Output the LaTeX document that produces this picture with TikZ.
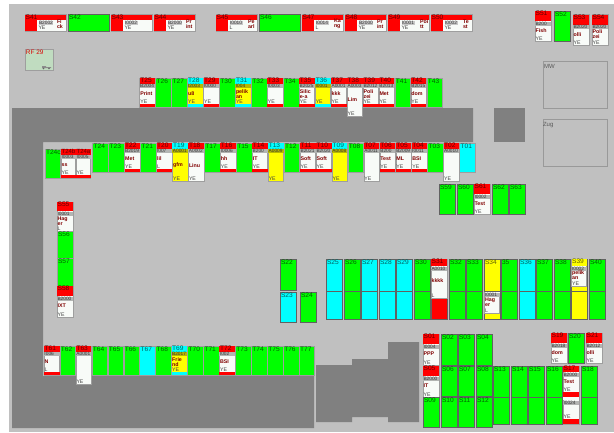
\documentclass[tikz,border=0pt]{standalone}
\usepackage{fontspec}
\setmainfont{Liberation Sans}
\definecolor{bg}{HTML}{C0C0C0}
\definecolor{wall}{HTML}{808080}
\definecolor{paper}{HTML}{F8FBF8}
\definecolor{wine}{HTML}{800000}
\definecolor{rfgreen}{HTML}{C0DCC0}
\definecolor{red}{HTML}{FF0000}
\definecolor{green}{HTML}{00FF00}
\definecolor{cyan}{HTML}{00FFFF}
\definecolor{yellow}{HTML}{FFFF00}
\pgfkeys{/card/.is family,/card,
  lab/.store in=\cLab, lfill/.store in=\cLf, body/.store in=\cBody, code/.store in=\cCode,
  mid/.store in=\cMid, tail/.store in=\cTail, bot/.store in=\cBot, bh/.store in=\cBh,
  lh/.store in=\cLh, my/.store in=\cMy, lsize/.store in=\cLs}
\def\cNone{none}
\tikzset{
  box/.style={anchor=north west,inner sep=0pt,outer sep=0pt,rectangle},
  tedge/.style={box,draw=black!38,line width=.5pt},
  sedge/.style={box,draw=black!62,line width=.9pt},
  stripe/.style={box,line width=0pt},
  txt/.style={inner sep=0pt,outer sep=0pt,anchor=west,align=left},
  codetxt/.style={txt,text=black!80,font=\fontsize{4.8}{4.8}\selectfont},
  midtxt/.style={txt,text=wine,font=\bfseries\fontsize{5.3}{5}\selectfont},
  tailtxt/.style={txt,text=black!75,font=\fontsize{5.2}{5.2}\selectfont},
  room/.style={box,draw=black!40,line width=.7pt},
}
% solid box with a label at its top left: name,x,y,w,h,edge style,fill,label
\newcommand{\solid}[8]{%
  \node[#6,fill=#7,minimum width=#4,minimum height=#5] (#1) at (#2,#3) {};
  \node[txt,anchor=north west,text=#7!38!black,font=\fontsize{6.6}{6.6}\selectfont] (#1-l) at ([xshift=1pt,yshift=-.8pt]#1.north west) {#8};}
% S column in two parts
\newcommand{\column}[3]{%
  \solid{#1}{#2}{259}{16}{60}{sedge}{#3}{#1}
  \draw[black!62,line width=.7pt] (#1.west |- 0,291) -- (#1.east |- 0,291);}
\newcommand{\columnb}[3]{%
  \solid{#1}{#2}{366}{16}{58}{sedge}{#3}{#1}
  \draw[black!62,line width=.7pt] (#1.west |- 0,397) -- (#1.east |- 0,397);}
% vertical card: name,x,y,w,h,options
\newcommand{\card}[6]{%
  \pgfkeys{/card,lab=#1,lfill=red,body=paper,code=,mid=,tail=,bot=none,bh=3,lh=5.5,my=16,lsize=6.6}%
  \pgfkeys{/card,#6}%
  \node[tedge,fill=\cBody,minimum width=#4,minimum height=#5] (#1) at (#2,#3) {};
  \node[stripe,fill=\cLf,minimum width=#4,minimum height=\cLh] (#1-a) at (#1.north west) {};
  \node[txt,anchor=north west,text=\cLf!38!black,font=\fontsize{\cLs}{\cLs}\selectfont] (#1-l) at ([xshift=.6pt,yshift=-.3pt]#1.north west) {\cLab};
  \node[stripe,fill=\cBody!72!black,minimum width=#4,minimum height=4.2] (#1-b) at ([yshift=-\cLh pt-.5pt]#1.north west) {};
  \node[codetxt] (#1-c) at ([xshift=.5pt]#1-b.west) {\cCode};
  \node[midtxt] (#1-m) at ([xshift=.6pt,yshift=-\cMy pt]#1.north west) {\cMid};
  \ifx\cBot\cNone
    \node[tailtxt] (#1-t) at ([xshift=.6pt,yshift=2.6pt]#1.south west) {\cTail};
  \else
    \node[stripe,fill=\cBot,anchor=south west,minimum width=#4,minimum height=\cBh] (#1-s) at (#1.south west) {};
    \node[tailtxt] (#1-t) at ([xshift=.6pt,yshift=2.5pt]#1-s.north west) {\cTail};
  \fi}
% horizontal card of the top row: name,x,code,mid,tail
\newcommand{\hcard}[5]{%
  \node[tedge,fill=paper,minimum width=41,minimum height=16.5] (#1) at (#2,14.5) {};
  \node[stripe,fill=red,minimum width=41,minimum height=5] (#1-a) at (#1.north west) {};
  \node[stripe,fill=red,minimum width=12,minimum height=16.5] (#1-b) at (#1.north west) {};
  \node[txt,anchor=north west,text=red!38!black,font=\fontsize{6.6}{6.6}\selectfont] (#1-l) at ([xshift=.6pt,yshift=-.6pt]#1.north west) {#1};
  \node[codetxt,fill=black!22,inner xsep=.5pt] (#1-c) at ([xshift=13.5pt,yshift=-8.3pt]#1.north west) {#3};
  \node[midtxt] (#1-m) at ([xshift=32pt,yshift=-9.5pt]#1.north west) {#4};
  \node[tailtxt] (#1-t) at ([xshift=13.5pt,yshift=2.8pt]#1.south west) {#5};}
\begin{document}
\begin{tikzpicture}[x=1pt,y=-1pt]
\useasboundingbox (0,0) rectangle (614,432);
\fill[white] (0,0) rectangle (614,432);
\fill[bg] (9,3.5) rectangle (614,432);
% walls
\fill[wall] (12,108) -- (473,108) -- (473,142) -- (43,142) -- (43,376) -- (314,376) -- (314,428) -- (12,428) -- cycle;
\fill[wall] (493.5,108) rectangle (525,142);
\fill[wall] (316,365) -- (352,365) -- (352,359) -- (388,359) -- (388,342) -- (419,342) -- (419,422) -- (388,422) -- (388,417) -- (352,417) -- (352,422) -- (316,422) -- cycle;
% rooms
\node[room,minimum width=64,minimum height=47] (MW) at (543,61) {};
\node[txt,anchor=north west,text=black!65,font=\fontsize{6}{6}\selectfont] (MWl) at ([xshift=1pt,yshift=-3pt]MW.north west) {MW};
\node[room,minimum width=64,minimum height=47] (Zug) at (543,119) {};
\node[txt,anchor=north west,text=black!65,font=\fontsize{6}{6}\selectfont] (Zugl) at ([xshift=0pt,yshift=-3pt]Zug.north west) {Zug};
% RF 29
\node[tedge,fill=rfgreen,minimum width=28,minimum height=21] (RF) at (25,49) {};
\node[txt,anchor=north west,text=red!85!black,font=\fontsize{6.4}{6.4}\selectfont] (RFl) at ([xshift=1pt,yshift=-1pt]RF.north west) {RF 29};
\fill[black!45] (42,66) rectangle (46,68.2) (46,67) rectangle (51,68.2);
\fill[black!60] (43.5,68.5) circle (.9) (49,68.5) circle (.9);
% top row
\hcard{S41}{25}{B2002}{Fi\\ck}{YE}
\solid{S42}{68}{14.5}{41}{16.5}{sedge}{green}{S42}
\hcard{S43}{111}{I0002}{}{YE}
\hcard{S44}{154}{B2000}{Pr\\int}{YE}
\hcard{S45}{216}{I0010}{Pe\\arl}{L}
\solid{S46}{259}{14.5}{41}{16.5}{sedge}{green}{S46}
\hcard{S47}{302}{I0014}{Ka\\ng}{L}
\hcard{S48}{345}{B2000}{Pr\\int}{YE}
\hcard{S49}{388}{I0001}{Poi\\tt}{YE}
\hcard{S50}{431}{I0002}{Te\\st}{YE}
\card{S51}{535}{11}{16}{30}{lh=10,my=20,code=B200,mid=Fish,tail=YE}
\solid{S52}{554}{11}{16}{30}{sedge}{green}{S52}
\card{S53}{573}{14.5}{16}{30.5}{lh=10,my=20,code=B2020,mid=olli,tail=YE}
\card{S54}{592}{14.5}{16}{30.5}{lh=10,my=20,code=B2020,mid=Poli\\zei,tail=YE}
% T25 - T43
\def\p{15.95}
\def\ra{139.7}
\def\rb{92.7}
\def\rc{44}
\foreach \n/\i in {T26/1,T27/2,T30/5,T32/7,T34/9,T41/16,T43/18}
  {\solid{\n}{\ra+\i*\p}{78}{15.5}{29}{tedge}{green}{\n}}
\card{T25}{\ra}{78}{15.5}{29}{code=B2004,mid=Print,tail=YE,bot=red}
\card{T28}{\ra+3*\p}{78}{15.5}{29}{lfill=cyan,body=yellow,code=I2003,mid=u8,tail=YE,bot=cyan}
\card{T29}{\ra+4*\p}{78}{15.5}{29}{code=I0000,tail=YE,bot=red}
\card{T31}{\ra+6*\p}{78}{15.5}{29}{lfill=cyan,body=yellow,code=I004,mid=pelik\\an,tail=YE,bot=cyan}
\card{T33}{\ra+8*\p}{78}{15.5}{29}{code=I0003,tail=YE,bot=red}
\card{T35}{\ra+10*\p}{78}{15.5}{29}{code=B2025,mid=Silic\\e-a,tail=YE,bot=red}
\card{T36}{\ra+11*\p}{78}{15.5}{29}{lfill=cyan,body=yellow,code=I0001,tail=YE,bot=cyan}
\card{T37}{\ra+12*\p}{78}{15.5}{29}{code=A0001,mid=kkk,tail=YE,bot=red}
\card{T38}{\ra+13*\p}{78}{15.5}{38}{code=A0003,mid=Lim,my=22,tail=YE}
\card{T39}{\ra+14*\p}{78}{15.5}{29}{code=B2012,mid=Poli\\zei,tail=YE,bot=red}
\card{T40}{\ra+15*\p}{78}{15.5}{29}{code=B2013,mid=Met,tail=YE,bot=red}
\card{T42}{\ra+17*\p}{78}{15.5}{29}{code=B2015,mid=dom,tail=YE,bot=red}
% T24 - T01
\solid{T24c}{45}{149}{15.5}{29}{tedge}{green}{T24c}
\card{T24b}{61}{149}{14.5}{29}{lsize=6,code=I0003,mid=ss,tail=YE,bot=red}
\card{T24a}{76}{149}{14.5}{29}{lsize=6,code=I0005,tail=YE,bot=red}
\foreach \n/\i in {T24/0,T23/1,T21/3,T17/7,T15/9,T12/12,T08/16,T03/21}
  {\solid{\n}{\rb+\i*\p}{143}{15.5}{29}{tedge}{green}{\n}}
\solid{T01}{\rb+23*\p}{143}{15.5}{29}{tedge}{cyan}{T01}
\card{T22}{\rb+2*\p}{143}{15.5}{29}{code=B2019,mid=Met,tail=YE,bot=red}
\card{T20}{\rb+4*\p}{143}{15.5}{29}{code=I007,mid=lil,tail=L,bot=red}
\card{T19}{\rb+5*\p}{143}{15.5}{38}{lfill=cyan,body=yellow,code=A0001,mid=gfm,my=22.5,tail=YE}
\card{T18}{\rb+6*\p}{143}{15.5}{38}{code=A0002,mid=Linu,my=22.5,tail=YE}
\card{T16}{\rb+8*\p}{143}{15.5}{29}{code=I0006,mid=hh,tail=YE,bot=red}
\card{T14}{\rb+10*\p}{143}{15.5}{29}{code=B200,mid=IT,tail=YE,bot=red}
\card{T13}{\rb+11*\p}{143}{15.5}{38}{lfill=cyan,body=yellow,code=A0009,tail=YE}
\card{T11}{\rb+13*\p}{143}{15.5}{29}{code=B2021,mid=Soft,tail=YE,bot=red}
\card{T10}{\rb+14*\p}{143}{15.5}{29}{code=B2020,mid=Soft,tail=YE,bot=red}
\card{T09}{\rb+15*\p}{143}{15.5}{38}{lfill=cyan,body=yellow,code=A0008,tail=YE}
\card{T07}{\rb+17*\p}{143}{15.5}{38}{code=A0011,tail=YE}
\card{T06}{\rb+18*\p}{143}{15.5}{29}{code=B200,mid=Test,tail=YE,bot=red}
\card{T05}{\rb+19*\p}{143}{15.5}{29}{code=B2009,mid=ML,tail=YE,bot=red}
\card{T04}{\rb+20*\p}{143}{15.5}{29}{code=I0011,mid=BSI,tail=YE,bot=red}
\card{T02}{\rb+22*\p}{143}{15.5}{38}{code=A0010,tail=YE}
% S59 - S63
\solid{S59}{439}{184}{16}{30}{sedge}{green}{S59}
\solid{S60}{457}{184}{16}{30}{sedge}{green}{S60}
\card{S61}{474}{184}{16}{30}{lh=10,my=20,code=I0002,mid=Test,tail=YE}
\solid{S62}{492}{184}{16}{30}{sedge}{green}{S62}
\solid{S63}{509}{184}{16}{30}{sedge}{green}{S63}
% S55 - S58
\card{S55}{57}{202}{16}{29}{lh=9,my=19,code=I0001,mid=Hag\\er,tail=L}
\solid{S56}{57}{231}{16}{27}{tedge}{green}{S56}
\solid{S57}{57}{258}{16}{28}{tedge}{green}{S57}
\card{S58}{57}{286}{16}{31}{lh=10,my=20,code=B2000,mid=IXT,tail=YE}
% S22 - S40
\solid{S22}{280}{259}{16}{31}{sedge}{green}{S22}
\solid{S23}{280}{292}{16}{30}{sedge}{cyan}{S23}
\solid{S24}{300}{292}{16}{30}{sedge}{green}{S24}
\column{S25}{326}{cyan}
\column{S26}{344}{green}
\column{S27}{361}{cyan}
\column{S28}{379}{cyan}
\column{S29}{396}{cyan}
\column{S30}{414}{green}
\node[sedge,fill=red,minimum width=16,minimum height=60] (S31r) at (431,259) {};
\card{S31}{431}{259}{16}{39}{lh=7,my=22,code=A0010,mid=kkkk,tail=L}
\column{S32}{449}{green}
\column{S33}{466}{green}
\column{S34}{484}{yellow}
\card{S34p}{484.5}{292}{15}{21}{lab=,lfill=paper,lh=.5,my=10.5,code=I0001,mid=Hag\\er,tail=L}
\solid{S35}{501}{259}{16}{60}{sedge}{green}{35}
\draw[black!62,line width=.7pt] (S35.west |- 0,291) -- (S35.east |- 0,291);
\column{S36}{519}{cyan}
\column{S37}{536}{green}
\column{S38}{554}{green}
\column{S39}{571}{yellow}
\card{S39p}{571.5}{259}{15}{27}{lab=S39,lfill=yellow,lh=7,my=16.5,code=I0002,mid=pelik\\an,tail=YE}
\column{S40}{589}{green}
% T61 - T77
\foreach \n/\i in {T62/1,T64/3,T65/4,T66/5,T68/7,T70/9,T71/10,T73/12,T74/13,T75/14,T76/15,T77/16}
  {\solid{\n}{\rc+\i*\p}{346}{15.5}{29}{tedge}{green}{\n}}
\solid{T67}{\rc+6*\p}{346}{15.5}{29}{tedge}{cyan}{T67}
\card{T61}{\rc}{346}{15.5}{29}{code=I006,mid=N,tail=L,bot=red}
\card{T63}{\rc+2*\p}{346}{15.5}{38}{code=A0001,tail=YE}
\card{T69}{\rc+8*\p}{346}{15.5}{29}{lfill=cyan,body=yellow,code=B2017,mid=Frie\\nd,tail=YE,bot=cyan}
\card{T72}{\rc+11*\p}{346}{15.5}{29}{code=I002,mid=BSI,tail=YE,bot=red}
% S01 - S21
\card{S01}{423}{334}{16}{31}{lh=10,my=20,code=I0004,mid=PPP,tail=YE}
\solid{S02}{441}{334}{16}{31}{sedge}{green}{S02}
\solid{S03}{458}{334}{16}{31}{sedge}{green}{S03}
\solid{S04}{476}{334}{16}{31}{sedge}{green}{S04}
\card{S05}{423}{366}{16}{31}{lh=10,my=20,code=B2000,mid=IT,tail=YE}
\solid{S06}{441}{366}{16}{30}{sedge}{green}{S06}
\solid{S07}{458}{366}{16}{30}{sedge}{green}{S07}
\solid{S08}{476}{366}{16}{30}{sedge}{green}{S08}
\solid{S09}{423}{397}{16}{30}{sedge}{green}{S09}
\solid{S10}{441}{397}{16}{30}{sedge}{green}{S10}
\solid{S11}{458}{397}{16}{30}{sedge}{green}{S11}
\solid{S12}{476}{397}{16}{30}{sedge}{green}{S12}
\columnb{S13}{493}{green}
\columnb{S14}{511}{green}
\columnb{S15}{528}{green}
\columnb{S16}{546}{green}
\card{S17}{563}{366}{16}{31}{lh=6,my=16,code=B2000,mid=Test,tail=YE,bot=red,bh=5}
\card{S17b}{563}{397}{16}{27}{lab=,lfill=paper,lh=3,code=I0024,tail=YE,bot=red,bh=5}
\columnb{S18}{581}{green}
\card{S19}{551}{333}{16}{30}{lh=10,my=20,code=B2018,mid=dom,tail=YE}
\solid{S20}{568}{333}{16}{30}{sedge}{green}{S20}
\card{S21}{586}{333}{16}{30}{lh=10,my=20,code=B2012,mid=olli,tail=YE}
\end{tikzpicture}
\end{document}
